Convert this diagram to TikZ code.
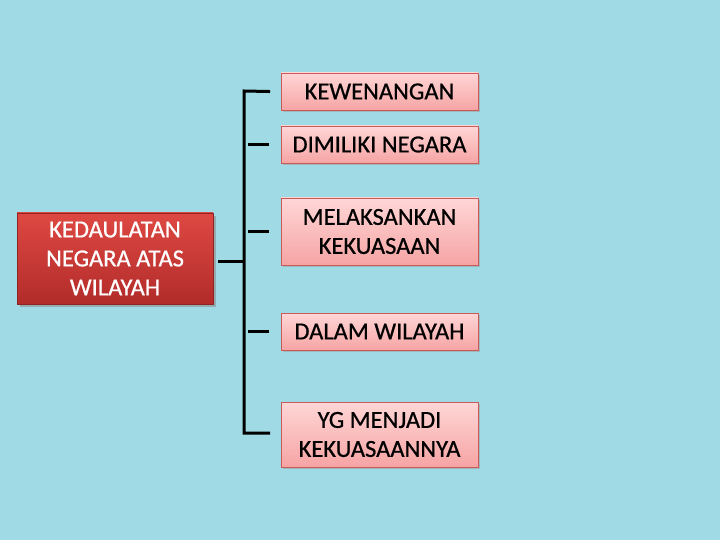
\documentclass[tikz,border=0pt]{standalone}
\usepackage{fontspec}
\setmainfont{Carlito}
\newfontfamily\boxfont{Carlito}[FakeBold=0.7]
\usetikzlibrary{shadows,shadings,positioning}
\definecolor{bgcyan}{RGB}{160,219,229}
\definecolor{redtop}{RGB}{222,72,66}
\definecolor{redbot}{RGB}{178,44,42}
\definecolor{pinktop}{RGB}{255,214,214}
\definecolor{pinkbot}{RGB}{246,164,164}
\definecolor{pinkline}{RGB}{200,90,90}

\begin{document}
\begin{tikzpicture}[x=1pt, y=-1pt,
	redbox/.style={draw=redbot!80!black, line width=0.6pt, top color=redtop, bottom color=redbot,
		minimum width=196pt, minimum height=91pt, text=white, align=center,
		inner sep=1pt, font=\boxfont\fontsize{24.5}{29}\selectfont,
		drop shadow={shadow xshift=3pt, shadow yshift=-3pt, fill=black!45, opacity=0.6}},
	pinkbox/.style={draw=pinkline, line width=0.6pt, top color=pinktop, bottom color=pinkbot,
		minimum width=197pt, minimum height=37pt, text=black, align=center,
		inner sep=1pt, font=\boxfont\fontsize{24.5}{29}\selectfont,
		drop shadow={shadow xshift=2pt, shadow yshift=-2pt, fill=black!40, opacity=0.5}},
	bracket/.style={line width=3pt, black}]
	\fill[bgcyan] (0,0) rectangle (720,540);
	\useasboundingbox (0,0) rectangle (720,540);

	\node[redbox] (kd) at (115,258.5) {KEDAULATAN\\NEGARA ATAS\\WILAYAH};

	\node[pinkbox] (k1) at (379.5,91.5) {KEWENANGAN};
	\node[pinkbox] (k2) at (379.5,144.5) {DIMILIKI NEGARA};
	\node[pinkbox, minimum height=67pt] (k3) at (379.5,231.5) {MELAKSANKAN\\KEKUASAAN};
	\node[pinkbox] (k4) at (379.5,331.5) {DALAM WILAYAH};
	\node[pinkbox, minimum height=65pt] (k5) at (379.5,434.5) {YG MENJADI\\KEKUASAANNYA};

	\coordinate (bt) at (244,91);
	\coordinate (bb) at (244,433);
	\coordinate (bm) at (244,261);

	% bracket
	\draw[bracket, line cap=rect] ([xshift=-12pt]k1.west) -- (bt) -- (bb) -- ([xshift=-12pt]k5.west |- bb);
	\draw[bracket] ([xshift=-12pt]k2.west) -- ([xshift=-33pt]k2.west);
	\draw[bracket] ([xshift=-12pt]k3.west) -- ([xshift=-33pt]k3.west);
	\draw[bracket] ([xshift=-12pt]k4.west) -- ([xshift=-33pt]k4.west);
	\draw[bracket] ([xshift=5pt]kd.east |- bm) -- (bm);

\end{tikzpicture}
\end{document}
